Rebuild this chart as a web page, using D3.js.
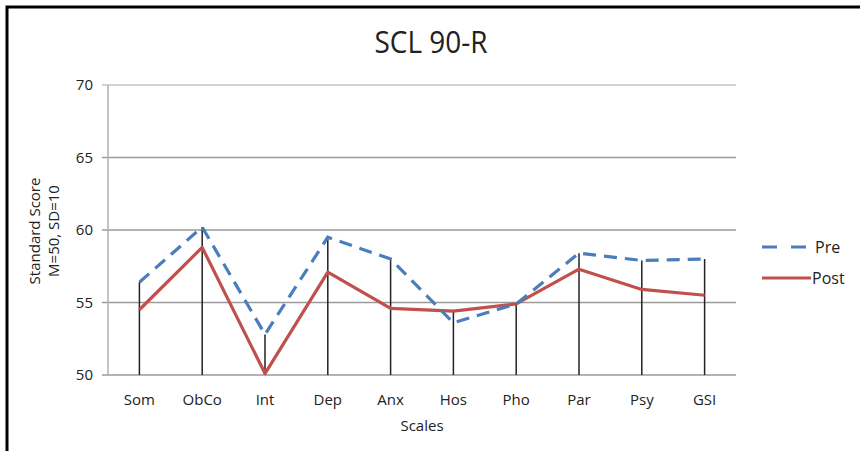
<!DOCTYPE html>
<html>
<head>
<meta charset="utf-8">
<script src="https://cdn.jsdelivr.net/npm/d3@7"></script>
<style>
  body { margin: 0; background: #fff; }
  svg { display: block; }
  text { font-family: "Open Sans", "Liberation Sans", sans-serif; fill: #222; }
</style>
</head>
<body>
<script>
var scales = ['Som', 'ObCo', 'Int', 'Dep', 'Anx', 'Hos', 'Pho', 'Par', 'Psy', 'GSI'];
var preScores = [56.4, 60.2, 52.8, 59.5, 58.0, 53.6, 54.9, 58.4, 57.9, 58.0];
var postScores = [54.5, 58.8, 50.1, 57.1, 54.6, 54.4, 54.9, 57.3, 55.9, 55.5];
var yTicks = [50, 55, 60, 65, 70];
var seriesNames = ['Pre', 'Post'];

var width = 860,
    height = 451;

var svg = d3.select('body')
  .append('svg')
  .attr('width', width)
  .attr('height', height);

// frame, top and left only
svg.append('path')
  .attr('d', 'M7,' + height + 'V7H' + width)
  .attr('fill', 'none')
  .attr('stroke', '#000')
  .attr('stroke-width', 3);

var x = d3.scalePoint()
  .domain(scales)
  .range([108, 736])
  .padding(0.5);

var y = d3.scaleLinear()
  .domain([50, 70])
  .range([375, 85]);

// gridlines
svg.append('g')
  .selectAll('line')
  .data(yTicks)
  .enter()
  .append('line')
  .attr('x1', 102)
  .attr('x2', 736)
  .attr('y1', function(d) { return y(d); })
  .attr('y2', function(d) { return y(d); })
  .attr('stroke', function(d) { return d == 70 ? '#c4c4c4' : '#9a9a9a'; })
  .attr('stroke-width', 1.5);

// y axis line
svg.append('line')
  .attr('x1', 108).attr('x2', 108)
  .attr('y1', y(70)).attr('y2', y(50))
  .attr('stroke', '#b0b0b0')
  .attr('stroke-width', 1.5);

// tick labels
svg.append('g')
  .selectAll('text')
  .data(yTicks)
  .enter()
  .append('text')
  .attr('x', 93)
  .attr('y', function(d) { return y(d); })
  .attr('dy', '0.35em')
  .attr('text-anchor', 'end')
  .style('font-size', '15px')
  .text(function(d) { return d; });

svg.append('g')
  .selectAll('text')
  .data(scales)
  .enter()
  .append('text')
  .attr('x', function(d) { return x(d); })
  .attr('y', 400)
  .attr('dy', '0.35em')
  .attr('text-anchor', 'middle')
  .style('font-size', '15px')
  .text(function(d) { return d; });

svg.append('text')
  .attr('x', 422)
  .attr('y', 426)
  .attr('dy', '0.35em')
  .attr('text-anchor', 'middle')
  .style('font-size', '15px')
  .text('Scales');

var yLabel = svg.append('text')
  .attr('transform', 'translate(35,231) rotate(-90)')
  .attr('text-anchor', 'middle')
  .style('font-size', '15px');
yLabel.append('tspan').attr('x', 0).attr('dy', '0.35em').text('Standard Score');
yLabel.append('tspan').attr('x', 0).attr('dy', '1.25em').text('M=50, SD=10');

svg.append('text')
  .attr('x', 431)
  .attr('y', 53)
  .attr('text-anchor', 'middle')
  .attr('textLength', 113)
  .attr('lengthAdjust', 'spacingAndGlyphs')
  .style('font-size', '31px')
  .text('SCL 90-R');

// drop lines
svg.append('g')
  .selectAll('line')
  .data(scales)
  .enter()
  .append('line')
  .attr('x1', function(d) { return x(d); })
  .attr('x2', function(d) { return x(d); })
  .attr('y1', function(d, i) { return y(Math.max(preScores[i], postScores[i])); })
  .attr('y2', y(50))
  .attr('stroke', '#222')
  .attr('stroke-width', 1.5);

var line = d3.line()
  .x(function(d, i) { return x(scales[i]); })
  .y(function(d) { return y(d); });

svg.append('path')
  .datum(postScores)
  .attr('d', line)
  .attr('fill', 'none')
  .attr('stroke', '#c0504d')
  .attr('stroke-width', 3.2)
  .attr('stroke-linejoin', 'round');

svg.append('path')
  .datum(preScores)
  .attr('d', line)
  .attr('fill', 'none')
  .attr('stroke', '#4a7ebb')
  .attr('stroke-width', 3.2)
  .attr('stroke-dasharray', '13,8');

// legend
var legend = svg.append('g')
  .selectAll('g')
  .data(seriesNames)
  .enter()
  .append('g')
  .attr('transform', function(d, i) { return 'translate(762,' + (247 + i * 31) + ')'; });

legend.append('line')
  .attr('x1', 0)
  .attr('x2', function(d, i) { return i == 0 ? 44 : 49; })
  .attr('stroke', function(d, i) { return i == 0 ? '#4a7ebb' : '#c0504d'; })
  .attr('stroke-width', 3.2)
  .attr('stroke-dasharray', function(d, i) { return i == 0 ? '15,14' : null; });

legend.append('text')
  .attr('x', function(d, i) { return i == 0 ? 53 : 50; })
  .attr('dy', '0.35em')
  .style('font-size', '16px')
  .text(function(d) { return d; });
</script>
</body>
</html>
